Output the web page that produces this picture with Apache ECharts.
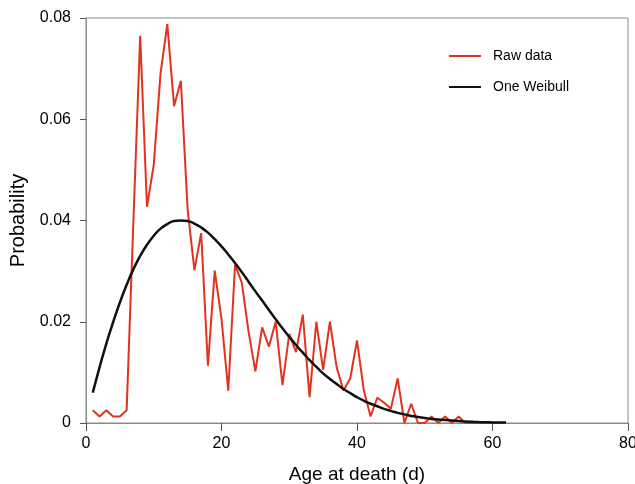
<!DOCTYPE html>
<html>
<head>
<meta charset="utf-8">
<script src="https://cdn.jsdelivr.net/npm/echarts@6/dist/echarts.min.js"></script>
<style>
html,body{margin:0;padding:0;background:#fff;}
#chart{width:635px;height:484px;}
</style>
</head>
<body>
<div id="chart"></div>
<script>
// Age at death (days) for raw data
var rawDays = [1,2,3,4,5,6,7,8,9,10,11,12,13,14,15,16,17,18,19,20,21,22,23,24,25,26,27,28,29,30,31,32,33,34,35,36,37,38,39,40,41,42,43,44,45,46,47,48,49,50,51,52,53,54,55,56,57,58,59,60,61];
var rawValues = [0.0025,0.0013,0.0025,0.0013,0.0013,0.0025,0.040,0.0765,0.0427,0.051,0.069,0.0788,0.0626,0.0676,0.0422,0.0302,0.0375,0.0113,0.0301,0.0205,0.0064,0.0313,0.0277,0.018,0.0102,0.0189,0.0151,0.020,0.0075,0.0176,0.014,0.0214,0.0051,0.020,0.0105,0.020,0.011,0.0064,0.0088,0.0163,0.0065,0.0013,0.005,0.004,0.0028,0.0088,0,0.0038,0,0,0.0013,0,0.0013,0,0.0013,0,0,0,0,0,0];
// One Weibull fit
var fitDays = [1,2,3,4,5,6,7,8,9,10,11,12,13,14,15,16,17,18,19,20,21,22,23,24,25,26,27,28,29,30,31,32,33,34,35,36,37,38,39,40,41,42,43,44,45,46,47,48,49,50,51,52,53,54,55,56,57,58,59,60,61,62];
var fitValues = [0.0060,0.0110,0.0157,0.0199,0.0238,0.0273,0.0304,0.0330,0.0352,0.0370,0.0384,0.0393,0.0399,0.0400,0.0399,0.0394,0.0386,0.0376,0.0363,0.0349,0.0333,0.0316,0.0298,0.0279,0.0260,0.0242,0.0223,0.0205,0.0187,0.0170,0.0154,0.0139,0.0124,0.0111,0.0098,0.0087,0.0077,0.0067,0.0059,0.0051,0.0044,0.0038,0.0033,0.0028,0.0024,0.0020,0.0017,0.0014,0.0012,0.0010,0.0008,0.0007,0.0006,0.0005,0.0004,0.0003,0.00024,0.00019,0.00015,0.00012,0.0001,0.00008];
var xTicks = [0,20,40,60,80];
var yTicks = [0,0.02,0.04,0.06,0.08];
var seriesNames = ['Raw data','One Weibull'];
var xTitle = 'Age at death (d)';
var yTitle = 'Probability';

function pairs(xs, ys){ return xs.map(function(x,i){ return [x, ys[i]]; }); }

var FONT = '"Liberation Sans", Arial, Helvetica, sans-serif';
var chart = echarts.init(document.getElementById('chart'), null, {renderer:'canvas'});
chart.setOption({
  animation: false,
  backgroundColor: '#fff',
  textStyle: {fontFamily: FONT},
  grid: {left: 86, right: 7, top: 18, bottom: 61, show: true, borderColor: '#8a8a8a', borderWidth: 1,
         backgroundColor: 'transparent', containLabel: false, outerBoundsMode: 'none'},
  legend: {
    orient: 'vertical', left: 449, top: 49, padding: 0,
    itemWidth: 32, itemHeight: 2, itemGap: 17, icon: 'rect',
    textStyle: {fontFamily: FONT, fontSize: 14, color: '#000', padding: [0,0,0,7]},
    data: seriesNames
  },
  xAxis: {
    type: 'value', min: xTicks[0], max: xTicks[xTicks.length-1], interval: 20,
    name: xTitle, nameLocation: 'middle', nameGap: 42,
    nameTextStyle: {fontFamily: FONT, fontSize: 19, color: '#000'},
    axisLine: {show: true, lineStyle: {color: '#8a8a8a', width: 1}},
    axisTick: {show: true, inside: false, length: 8, lineStyle: {color: '#555'}},
    axisLabel: {fontFamily: FONT, fontSize: 16, color: '#000', margin: 13},
    splitLine: {show: false}
  },
  yAxis: {
    type: 'value', min: yTicks[0], max: yTicks[yTicks.length-1], interval: 0.02,
    name: yTitle, nameLocation: 'middle', nameGap: 51, nameRotate: 90,
    nameTextStyle: {fontFamily: FONT, fontSize: 20, color: '#000'},
    axisLine: {show: true, lineStyle: {color: '#8a8a8a', width: 1}},
    axisTick: {show: true, inside: false, length: 6, lineStyle: {color: '#555'}},
    axisLabel: {fontFamily: FONT, fontSize: 16, color: '#000', margin: 15},
    splitLine: {show: false}
  },
  series: [
    {name: seriesNames[0], type: 'line', data: pairs(rawDays, rawValues), showSymbol: false, symbol: 'none',
     lineStyle: {color: '#e3321f', width: 2}, itemStyle: {color: '#e3321f'}, z: 2},
    {name: seriesNames[1], type: 'line', data: pairs(fitDays, fitValues), showSymbol: false, symbol: 'none', smooth: true,
     lineStyle: {color: '#111', width: 2.5}, itemStyle: {color: '#111'}, z: 3}
  ]
});
</script>
</body>
</html>
